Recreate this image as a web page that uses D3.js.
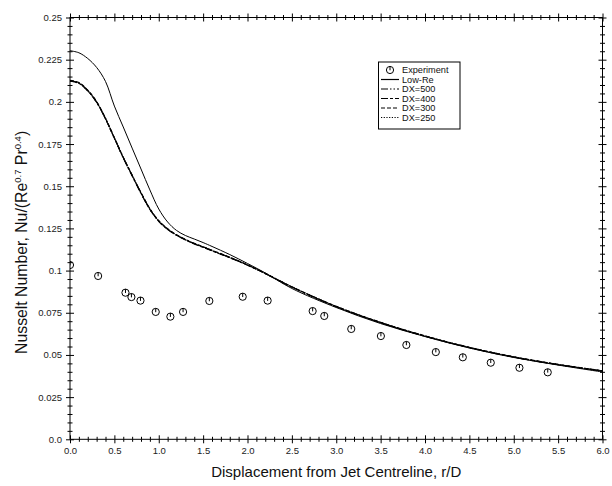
<!DOCTYPE html>
<html>
<head>
<meta charset="utf-8">
<script src="https://cdn.jsdelivr.net/npm/d3@7"></script>
<style>
  html, body { margin: 0; padding: 0; background: #fff; }
  svg { display: block; font-family: "Liberation Sans", Arial, sans-serif; }
</style>
</head>
<body>
<svg id="chart" width="612" height="486"></svg>
<script>
// Radial position r/D
const curveR = [0, 0.1, 0.2, 0.3, 0.4, 0.5, 0.6, 0.7, 0.8, 0.9, 1.0, 1.1, 1.2, 1.3, 1.4, 1.5, 1.6, 1.8, 2.0, 2.2, 2.5, 3.0, 3.5, 4.0, 4.5, 5.0, 5.5, 6.0];

// Predicted Nu/(Re^0.7 Pr^0.4)
const lowRe = [0.2303, 0.2291, 0.2257, 0.2204, 0.2121, 0.1975, 0.1851, 0.1726, 0.1602, 0.1478, 0.1365, 0.1288, 0.1238, 0.1208, 0.1187, 0.1166, 0.1143, 0.1095, 0.1042, 0.0986, 0.0894, 0.0781, 0.0686, 0.0609, 0.0541, 0.0485, 0.0440, 0.0399];
const dx500 = [0.2125, 0.2112, 0.2067, 0.1999, 0.1901, 0.1786, 0.1670, 0.1564, 0.1460, 0.1365, 0.1294, 0.1246, 0.1211, 0.1184, 0.1160, 0.1140, 0.1119, 0.1078, 0.1033, 0.0983, 0.0903, 0.0787, 0.0692, 0.0612, 0.0544, 0.0488, 0.0443, 0.0405];
const dx400 = [0.2123, 0.2110, 0.2065, 0.1997, 0.1899, 0.1784, 0.1668, 0.1562, 0.1458, 0.1363, 0.1292, 0.1244, 0.1209, 0.1182, 0.1158, 0.1138, 0.1117, 0.1076, 0.1032, 0.0982, 0.0902, 0.0786, 0.0691, 0.0611, 0.0543, 0.0487, 0.0442, 0.0404];
const dx300 = [0.2127, 0.2114, 0.2069, 0.2001, 0.1903, 0.1788, 0.1672, 0.1566, 0.1462, 0.1367, 0.1296, 0.1248, 0.1212, 0.1185, 0.1161, 0.1141, 0.1120, 0.1079, 0.1034, 0.0984, 0.0904, 0.0788, 0.0693, 0.0613, 0.0545, 0.0489, 0.0444, 0.0406];
const dx250 = [0.2124, 0.2111, 0.2066, 0.1998, 0.1900, 0.1785, 0.1669, 0.1563, 0.1459, 0.1364, 0.1293, 0.1245, 0.1210, 0.1183, 0.1159, 0.1139, 0.1118, 0.1077, 0.1033, 0.0983, 0.0903, 0.0787, 0.0692, 0.0612, 0.0544, 0.0488, 0.0443, 0.0405];

// Measured values
const expR  = [0.0, 0.317, 0.625, 0.692, 0.794, 0.966, 1.131, 1.274, 1.570, 1.946, 2.227, 2.734, 2.865, 3.169, 3.503, 3.790, 4.122, 4.426, 4.741, 5.064, 5.383];
const expNu = [0.1033, 0.0968, 0.0869, 0.0843, 0.0822, 0.0755, 0.0727, 0.0755, 0.0820, 0.0845, 0.0822, 0.0760, 0.0731, 0.0654, 0.0612, 0.0559, 0.0517, 0.0486, 0.0454, 0.0424, 0.0397];

// Tick values and labels
const xMajor = [0, 0.5, 1, 1.5, 2, 2.5, 3, 3.5, 4, 4.5, 5, 5.5, 6];
const xLabels = ["0.0", "0.5", "1.0", "1.5", "2.0", "2.5", "3.0", "3.5", "4.0", "4.5", "5.0", "5.5", "6.0"];
const yMajor = [0, 0.025, 0.05, 0.075, 0.1, 0.125, 0.15, 0.175, 0.2, 0.225, 0.25];
const yLabels = ["0.0", "0.025", "0.05", "0.075", "0.1", "0.125", "0.15", "0.175", "0.2", "0.225", "0.25"];

const seriesNames = ["Experiment", "Low-Re", "DX=500", "DX=400", "DX=300", "DX=250"];

const svg = d3.select("#chart");
const plotL = 70, plotR = 602.5, plotT = 17.5, plotB = 439.3;

const x = d3.scaleLinear().domain([0, 6]).range([plotL, plotR]);
const y = d3.scaleLinear().domain([0, 0.25]).range([plotB, plotT]);

const xMinor = d3.range(0, 61).map(i => i / 10).filter(v => Math.abs(v * 2 - Math.round(v * 2)) > 1e-6);
const yMinor = d3.range(0, 51).map(i => i * 0.005).filter(v => Math.abs(v / 0.025 - Math.round(v / 0.025)) > 1e-6);

// Clip region for the plot area
svg.append("defs").append("clipPath").attr("id", "plotClip")
  .append("rect").attr("x", plotL).attr("y", plotT).attr("width", plotR - plotL).attr("height", plotB - plotT);

const plot = svg.append("g").attr("clip-path", "url(#plotClip)");

const lineGen = vals => d3.line()
  .x((d, i) => x(curveR[i]))
  .y(d => y(d))
  .curve(d3.curveCatmullRom.alpha(0.5))(vals);

const series = [
  { v: dx500, dash: "7,2,1.5,2,1.5,2", w: 1.2 },
  { v: dx400, dash: "7,2,3,2", w: 1.2 },
  { v: dx300, dash: "4,2", w: 1.2 },
  { v: dx250, dash: "1.2,1.5", w: 1.2 },
  { v: lowRe, dash: null, w: 1 }
];
series.forEach(s => {
  plot.append("path")
    .attr("d", lineGen(s.v))
    .attr("fill", "none")
    .attr("stroke", "#000")
    .attr("stroke-width", s.w)
    .attr("stroke-dasharray", s.dash);
});

// Experiment symbol: open circle with a stroke from centre to top
function expSymbol(g, cx, cy) {
  g.append("circle").attr("cx", cx).attr("cy", cy).attr("r", 3.6)
    .attr("fill", "none").attr("stroke", "#000").attr("stroke-width", 1);
  g.append("line").attr("x1", cx).attr("x2", cx).attr("y1", cy - 3.6).attr("y2", cy + 0.3)
    .attr("stroke", "#000").attr("stroke-width", 1);
}
expR.forEach((r, i) => expSymbol(plot, x(r), y(expNu[i])));

// Frame
svg.append("rect").attr("x", plotL).attr("y", plotT).attr("width", plotR - plotL).attr("height", plotB - plotT)
  .attr("fill", "none").attr("stroke", "#000").attr("stroke-width", 1);

// Crossing ticks on all four sides (outer half + inner half)
function addAxis(axisFn, scale, tr, vals, size, labels) {
  const a = axisFn(scale).tickValues(vals).tickSize(size).tickPadding(4);
  a.tickFormat(labels ? ((d, i) => labels[i]) : "");
  const g = svg.append("g").attr("transform", tr).call(a);
  g.select(".domain").remove();
  g.selectAll(".tick line").attr("stroke", "#000").attr("stroke-width", 1);
  g.selectAll(".tick text").attr("font-size", 9.5).attr("fill", "#222")
    .attr("font-family", "Liberation Sans, Arial, sans-serif");
  return g;
}
// bottom
addAxis(d3.axisBottom, x, `translate(0,${plotB})`, xMajor, 4, xLabels);
addAxis(d3.axisBottom, x, `translate(0,${plotB})`, xMajor, -4, null);
addAxis(d3.axisBottom, x, `translate(0,${plotB})`, xMinor, 2.5, null);
addAxis(d3.axisBottom, x, `translate(0,${plotB})`, xMinor, -2.5, null);
// top
addAxis(d3.axisTop, x, `translate(0,${plotT})`, xMajor, 4, null);
addAxis(d3.axisTop, x, `translate(0,${plotT})`, xMajor, -4, null);
addAxis(d3.axisTop, x, `translate(0,${plotT})`, xMinor, 2.5, null);
addAxis(d3.axisTop, x, `translate(0,${plotT})`, xMinor, -2.5, null);
// left
addAxis(d3.axisLeft, y, `translate(${plotL},0)`, yMajor, 4, yLabels);
addAxis(d3.axisLeft, y, `translate(${plotL},0)`, yMajor, -4, null);
addAxis(d3.axisLeft, y, `translate(${plotL},0)`, yMinor, 2.5, null);
addAxis(d3.axisLeft, y, `translate(${plotL},0)`, yMinor, -2.5, null);
// right
addAxis(d3.axisRight, y, `translate(${plotR},0)`, yMajor, 4, null);
addAxis(d3.axisRight, y, `translate(${plotR},0)`, yMajor, -4, null);
addAxis(d3.axisRight, y, `translate(${plotR},0)`, yMinor, 2.5, null);
addAxis(d3.axisRight, y, `translate(${plotR},0)`, yMinor, -2.5, null);

// Axis titles
svg.append("text")
  .attr("x", (plotL + plotR) / 2).attr("y", 477)
  .attr("text-anchor", "middle").attr("font-size", 15).attr("fill", "#111")
  .text("Displacement from Jet Centreline, r/D");

const yt = svg.append("text")
  .attr("transform", `translate(27,${(plotT + plotB) / 2 + 14}) rotate(-90)`)
  .attr("text-anchor", "middle").attr("font-size", 15.8).attr("fill", "#111");
yt.append("tspan").text("Nusselt Number, Nu/(Re");
yt.append("tspan").attr("font-size", 9.5).attr("dy", -6.5).text("0.7");
yt.append("tspan").attr("dy", 6.5).text(" Pr");
yt.append("tspan").attr("font-size", 9.5).attr("dy", -6.5).text("0.4");
yt.append("tspan").attr("dy", 6.5).text(")");

// Legend
const lg = svg.append("g");
lg.append("rect").attr("x", 378.5).attr("y", 62).attr("width", 81.5).attr("height", 67)
  .attr("fill", "#fff").attr("stroke", "#000").attr("stroke-width", 1);
const rowY = [70, 79.5, 89, 98.5, 108, 117.5];
const legendDash = [null, null, "7,2,1.5,2,1.5,2", "7,2,3,2", "4,2", "1.2,1.5"];
seriesNames.forEach((name, i) => {
  const cy = rowY[i];
  if (i === 0) {
    expSymbol(lg, 390, cy);
  } else {
    lg.append("line").attr("x1", 381).attr("x2", 399).attr("y1", cy).attr("y2", cy)
      .attr("stroke", "#000").attr("stroke-width", 1.2)
      .attr("stroke-dasharray", legendDash[i]);
  }
  lg.append("text").attr("x", 402).attr("y", cy + 3.3)
    .attr("font-size", 9.2).attr("fill", "#111").text(name);
});
</script>
</body>
</html>
